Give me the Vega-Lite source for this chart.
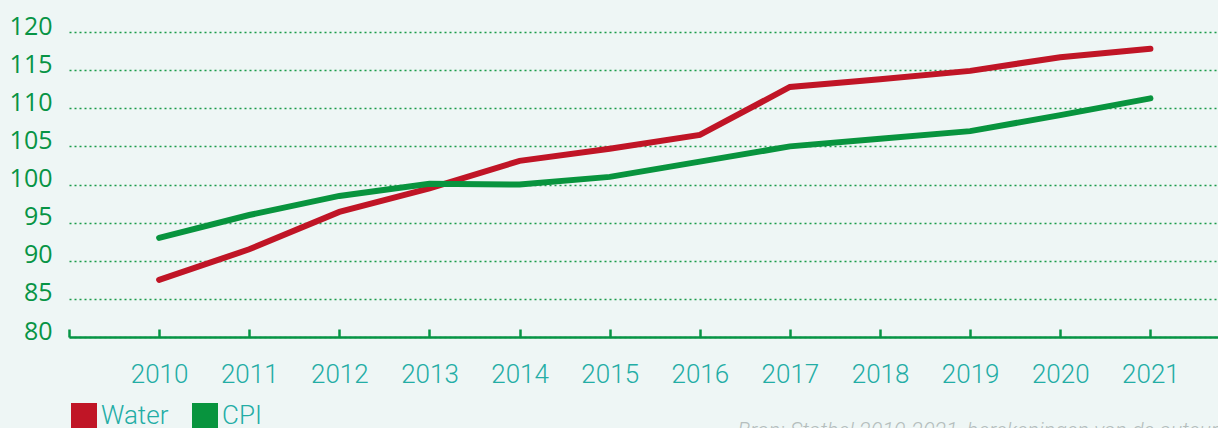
{
  "$schema": "https://vega.github.io/schema/vega-lite/v6.json",
  "autosize": "none",
  "width": 1149,
  "height": 305,
  "padding": {"left": 69, "top": 32, "right": 0, "bottom": 91},
  "background": "#EEF6F5",
  "config": {"view": {"stroke": null}},
  "data": {
    "values": [
      {"year": 2010, "series": "Water", "value": 87.5},
      {"year": 2011, "series": "Water", "value": 91.5},
      {"year": 2012, "series": "Water", "value": 96.4},
      {"year": 2013, "series": "Water", "value": 99.5},
      {"year": 2014, "series": "Water", "value": 103.1},
      {"year": 2015, "series": "Water", "value": 104.7},
      {"year": 2016, "series": "Water", "value": 106.5},
      {"year": 2017, "series": "Water", "value": 112.8},
      {"year": 2018, "series": "Water", "value": 113.8},
      {"year": 2019, "series": "Water", "value": 114.9},
      {"year": 2020, "series": "Water", "value": 116.7},
      {"year": 2021, "series": "Water", "value": 117.8},
      {"year": 2010, "series": "CPI", "value": 93.0},
      {"year": 2011, "series": "CPI", "value": 96.0},
      {"year": 2012, "series": "CPI", "value": 98.5},
      {"year": 2013, "series": "CPI", "value": 100.1},
      {"year": 2014, "series": "CPI", "value": 100.0},
      {"year": 2015, "series": "CPI", "value": 101.0},
      {"year": 2016, "series": "CPI", "value": 103.0},
      {"year": 2017, "series": "CPI", "value": 105.0},
      {"year": 2018, "series": "CPI", "value": 106.0},
      {"year": 2019, "series": "CPI", "value": 107.0},
      {"year": 2020, "series": "CPI", "value": 109.1},
      {"year": 2021, "series": "CPI", "value": 111.3}
    ]
  },
  "mark": {"type": "line", "strokeWidth": 6, "strokeCap": "round", "strokeJoin": "miter", "clip": false},
  "encoding": {
    "x": {
      "field": "year",
      "type": "quantitative",
      "scale": {"domain": [2009, 2021.75], "nice": false, "zero": false},
      "axis": {
        "values": [2009, 2010, 2011, 2012, 2013, 2014, 2015, 2016, 2017, 2018, 2019, 2020, 2021],
        "labelExpr": "datum.value == 2009 ? '' : datum.value",
        "grid": false,
        "domainColor": "#079445",
        "domainWidth": 2.5,
        "tickColor": "#079445",
        "tickWidth": 2.5,
        "tickSize": -8,
        "labelFont": "Roboto",
        "labelFontWeight": 300,
        "labelFontSize": 26,
        "labelColor": "#23ADA5",
        "labelPadding": 32,
        "labelFlush": false,
        "title": "Bron: Statbel 2010-2021, berekeningen van de auteurs",
        "titleX": 668,
        "titleY": 100,
        "titleAlign": "left",
        "titleAnchor": null,
        "titleBaseline": "alphabetic",
        "titleFont": "Roboto",
        "titleFontStyle": "italic",
        "titleFontWeight": 300,
        "titleFontSize": 21.5,
        "titleColor": "#B5BEBD"
      }
    },
    "y": {
      "field": "value",
      "type": "quantitative",
      "scale": {"domain": [80, 120], "nice": false, "zero": false},
      "axis": {
        "values": [80, 85, 90, 95, 100, 105, 110, 115, 120],
        "domain": false,
        "ticks": false,
        "gridColor": "#1A9B4B",
        "gridDash": [2, 3],
        "gridWidth": 1.5,
        "labelFont": "Open Sans",
        "labelFontSize": 25,
        "labelColor": "#079445",
        "labelPadding": 17,
        "labelBaseline": "alphabetic",
        "labelOffset": 2,
        "title": null
      }
    },
    "color": {
      "field": "series",
      "type": "nominal",
      "scale": {"domain": ["Water", "CPI"], "range": ["#C01526", "#08943E"]},
      "legend": {
        "orient": "none",
        "legendX": 2,
        "legendY": 371,
        "direction": "horizontal",
        "title": null,
        "symbolType": "square",
        "symbolSize": 676,
        "symbolOpacity": 1,
        "labelFont": "Roboto",
        "labelFontWeight": 300,
        "labelFontSize": 26,
        "labelColor": "#23ADA5",
        "labelOffset": 4,
        "columnPadding": 23,
        "padding": 0,
        "encode": {
          "symbols": {
            "update": {
              "fill": {"scale": "color", "field": "value"},
              "strokeWidth": {"value": 0}
            }
          }
        }
      }
    }
  }
}
